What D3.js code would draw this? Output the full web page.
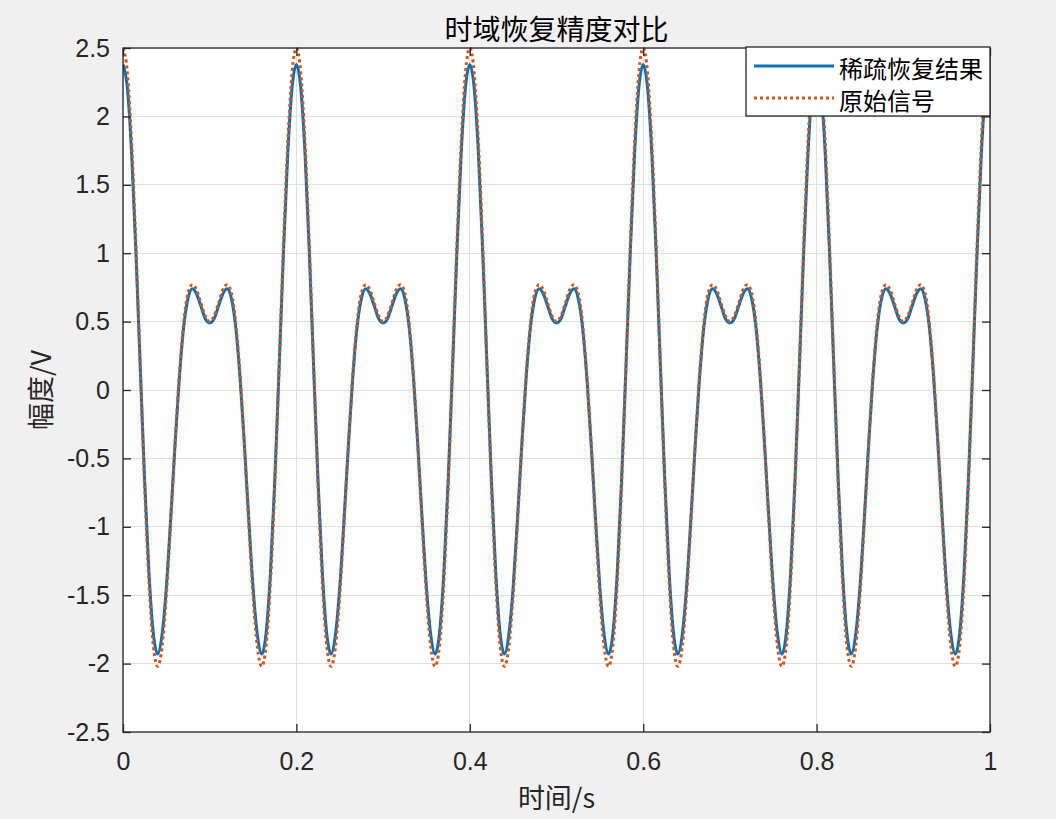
<!DOCTYPE html>
<html>
<head>
<meta charset="utf-8">
<script src="https://cdn.jsdelivr.net/npm/d3@7"></script>
<style>
  html, body { margin: 0; padding: 0; background: #f0f0f0; }
  svg { display: block; }
</style>
</head>
<body>
<svg id="chart" width="1056" height="819"></svg>
<script>
// ---- data ----
const titleText = "时域恢复精度对比";
const xLabelText = "时间/s";
const yLabelText = "幅度/V";
const seriesNames = ["稀疏恢复结果", "原始信号"];
const xTicks = [0, 0.2, 0.4, 0.6, 0.8, 1];
const yTicks = [-2.5, -2, -1.5, -1, -0.5, 0, 0.5, 1, 1.5, 2, 2.5];
const sampleStep = 0.005; // seconds between samples, 0 .. 1 s

// recovered signal (blue, solid)
const recovered = [
  2.38,2.21,1.72,0.99,0.15,-0.67,-1.34,-1.78,-1.93,-1.79,-1.44,-0.94,-0.40,0.09,0.46,0.67,0.74,0.70,0.61,0.52,0.49,0.52,0.61,0.70,0.74,0.67,0.46,0.09,-0.40,-0.94,-1.44,-1.79,-1.93,-1.78,-1.34,-0.67,0.15,0.99,1.72,2.21,
  2.38,2.21,1.72,0.99,0.15,-0.67,-1.34,-1.78,-1.93,-1.79,-1.44,-0.94,-0.40,0.09,0.46,0.67,0.74,0.70,0.61,0.52,0.49,0.52,0.61,0.70,0.74,0.67,0.46,0.09,-0.40,-0.94,-1.44,-1.79,-1.93,-1.78,-1.34,-0.67,0.15,0.99,1.72,2.21,
  2.38,2.21,1.72,0.99,0.15,-0.67,-1.34,-1.78,-1.93,-1.79,-1.44,-0.94,-0.40,0.09,0.46,0.67,0.74,0.70,0.61,0.52,0.49,0.52,0.61,0.70,0.74,0.67,0.46,0.09,-0.40,-0.94,-1.44,-1.79,-1.93,-1.78,-1.34,-0.67,0.15,0.99,1.72,2.21,
  2.38,2.21,1.72,0.99,0.15,-0.67,-1.34,-1.78,-1.93,-1.79,-1.44,-0.94,-0.40,0.09,0.46,0.67,0.74,0.70,0.61,0.52,0.49,0.52,0.61,0.70,0.74,0.67,0.46,0.09,-0.40,-0.94,-1.44,-1.79,-1.93,-1.78,-1.34,-0.67,0.15,0.99,1.72,2.21,
  2.38,2.21,1.72,0.99,0.15,-0.67,-1.34,-1.78,-1.93,-1.79,-1.44,-0.94,-0.40,0.09,0.46,0.67,0.74,0.70,0.61,0.52,0.49,0.52,0.61,0.70,0.74,0.67,0.46,0.09,-0.40,-0.94,-1.44,-1.79,-1.93,-1.78,-1.34,-0.67,0.15,0.99,1.72,2.21,
  2.38
];

// original signal (orange, dotted)
const original = [
  2.50,2.32,1.80,1.04,0.15,-0.71,-1.41,-1.87,-2.02,-1.88,-1.50,-0.97,-0.40,0.11,0.49,0.71,0.77,0.73,0.63,0.54,0.50,0.54,0.63,0.73,0.77,0.71,0.49,0.11,-0.40,-0.97,-1.50,-1.88,-2.02,-1.87,-1.41,-0.71,0.15,1.04,1.80,2.32,
  2.50,2.32,1.80,1.04,0.15,-0.71,-1.41,-1.87,-2.02,-1.88,-1.50,-0.97,-0.40,0.11,0.49,0.71,0.77,0.73,0.63,0.54,0.50,0.54,0.63,0.73,0.77,0.71,0.49,0.11,-0.40,-0.97,-1.50,-1.88,-2.02,-1.87,-1.41,-0.71,0.15,1.04,1.80,2.32,
  2.50,2.32,1.80,1.04,0.15,-0.71,-1.41,-1.87,-2.02,-1.88,-1.50,-0.97,-0.40,0.11,0.49,0.71,0.77,0.73,0.63,0.54,0.50,0.54,0.63,0.73,0.77,0.71,0.49,0.11,-0.40,-0.97,-1.50,-1.88,-2.02,-1.87,-1.41,-0.71,0.15,1.04,1.80,2.32,
  2.50,2.32,1.80,1.04,0.15,-0.71,-1.41,-1.87,-2.02,-1.88,-1.50,-0.97,-0.40,0.11,0.49,0.71,0.77,0.73,0.63,0.54,0.50,0.54,0.63,0.73,0.77,0.71,0.49,0.11,-0.40,-0.97,-1.50,-1.88,-2.02,-1.87,-1.41,-0.71,0.15,1.04,1.80,2.32,
  2.50,2.32,1.80,1.04,0.15,-0.71,-1.41,-1.87,-2.02,-1.88,-1.50,-0.97,-0.40,0.11,0.49,0.71,0.77,0.73,0.63,0.54,0.50,0.54,0.63,0.73,0.77,0.71,0.49,0.11,-0.40,-0.97,-1.50,-1.88,-2.02,-1.87,-1.41,-0.71,0.15,1.04,1.80,2.32,
  2.50
];

// ---- layout & style ----
const W = 1056, H = 819;
const plot = { left: 123, right: 990, top: 48, bottom: 732 };
const colors = { blue: "#0072BD", orange: "#D95319", axis: "#262626", grid: "#dfdfdf" };
const cjk = "'Noto Sans CJK SC', 'Noto Sans', sans-serif";
const latin = "'Liberation Sans', Arial, sans-serif";
const lineW = 3;
const dotDash = "3,3";

const svg = d3.select("#chart");
svg.append("rect").attr("width", W).attr("height", H).attr("fill", "#f0f0f0");

const x = d3.scaleLinear().domain([0, 1]).range([plot.left, plot.right]);
const y = d3.scaleLinear().domain([-2.5, 2.5]).range([plot.bottom, plot.top]);

// axes background
svg.append("rect")
  .attr("x", plot.left).attr("y", plot.top)
  .attr("width", plot.right - plot.left).attr("height", plot.bottom - plot.top)
  .attr("fill", "#ffffff");

// grid
const grid = svg.append("g");
grid.selectAll("line.gx").data(xTicks).join("line")
  .attr("x1", d => x(d)).attr("x2", d => x(d))
  .attr("y1", plot.top).attr("y2", plot.bottom)
  .attr("stroke", colors.grid).attr("stroke-width", 1).attr("shape-rendering", "crispEdges");
grid.selectAll("line.gy").data(yTicks).join("line")
  .attr("y1", d => y(d)).attr("y2", d => y(d))
  .attr("x1", plot.left).attr("x2", plot.right)
  .attr("stroke", colors.grid).attr("stroke-width", 1).attr("shape-rendering", "crispEdges");

// clip
svg.append("clipPath").attr("id", "clip").append("rect")
  .attr("x", plot.left).attr("y", plot.top - 1)
  .attr("width", plot.right - plot.left).attr("height", plot.bottom - plot.top + 2);

const line = d3.line()
  .x((d, i) => x(i * sampleStep))
  .y(d => y(d))
  .curve(d3.curveMonotoneX);

const lines = svg.append("g").attr("clip-path", "url(#clip)");
lines.append("path").datum(recovered)
  .attr("d", line).attr("fill", "none")
  .attr("stroke", colors.blue).attr("stroke-width", lineW)
  .attr("stroke-linejoin", "round");
lines.append("path").datum(original)
  .attr("d", line).attr("fill", "none")
  .attr("stroke", colors.orange).attr("stroke-width", lineW)
  .attr("stroke-dasharray", dotDash);

// axes with inward ticks (all four sides)
const tickLen = 8;
const fmt = d => String(d); // plain hyphen-minus like MATLAB
const axB = d3.axisBottom(x).tickValues(xTicks).tickSizeInner(-tickLen).tickSizeOuter(0)
  .tickPadding(tickLen + 12).tickFormat(fmt);
const axT = d3.axisTop(x).tickValues(xTicks).tickSizeInner(-tickLen).tickSizeOuter(0).tickFormat("");
const axL = d3.axisLeft(y).tickValues(yTicks).tickSizeInner(-tickLen).tickSizeOuter(0)
  .tickPadding(tickLen + 5).tickFormat(fmt);
const axR = d3.axisRight(y).tickValues(yTicks).tickSizeInner(-tickLen).tickSizeOuter(0).tickFormat("");

function styleAxis(g) {
  g.select(".domain").remove();
  g.selectAll("line").attr("stroke", colors.axis).attr("stroke-width", 1.3);
  g.selectAll("text").attr("fill", colors.axis).style("font-family", latin).style("font-size", "25px");
}
svg.append("g").attr("transform", `translate(0,${plot.bottom})`).call(axB).call(styleAxis);
svg.append("g").attr("transform", `translate(0,${plot.top})`).call(axT).call(styleAxis);
svg.append("g").attr("transform", `translate(${plot.left},0)`).call(axL).call(styleAxis);
svg.append("g").attr("transform", `translate(${plot.right},0)`).call(axR).call(styleAxis);

// box
svg.append("rect")
  .attr("x", plot.left).attr("y", plot.top)
  .attr("width", plot.right - plot.left).attr("height", plot.bottom - plot.top)
  .attr("fill", "none").attr("stroke", colors.axis).attr("stroke-width", 1.3);

// title & labels
svg.append("text").attr("x", (plot.left + plot.right) / 2).attr("y", 40)
  .attr("text-anchor", "middle").attr("fill", "#000")
  .style("font-family", cjk).style("font-size", "28px").text(titleText);
svg.append("text").attr("x", (plot.left + plot.right) / 2).attr("y", 808)
  .attr("text-anchor", "middle").attr("fill", colors.axis)
  .style("font-family", cjk).style("font-size", "27px").text(xLabelText);
svg.append("text")
  .attr("transform", `translate(51,${(plot.top + plot.bottom) / 2}) rotate(-90)`)
  .attr("text-anchor", "middle").attr("fill", colors.axis)
  .style("font-family", cjk).style("font-size", "27px").text(yLabelText);

// legend
const leg = { x: 746, y: 47, w: 244, h: 69 };
const lg = svg.append("g");
lg.append("rect").attr("x", leg.x).attr("y", leg.y).attr("width", leg.w).attr("height", leg.h)
  .attr("fill", "#fff").attr("stroke", colors.axis).attr("stroke-width", 1.3);
const legItems = [
  { name: seriesNames[0], color: colors.blue, dash: null, cy: 66 },
  { name: seriesNames[1], color: colors.orange, dash: dotDash, cy: 98 }
];
legItems.forEach(it => {
  lg.append("line").attr("x1", 754).attr("x2", 834).attr("y1", it.cy).attr("y2", it.cy)
    .attr("stroke", it.color).attr("stroke-width", lineW)
    .attr("stroke-dasharray", it.dash);
  lg.append("text").attr("x", 839).attr("y", it.cy + 1).attr("dominant-baseline", "central")
    .attr("fill", "#000").style("font-family", cjk).style("font-size", "24px").text(it.name);
});
</script>
</body>
</html>
